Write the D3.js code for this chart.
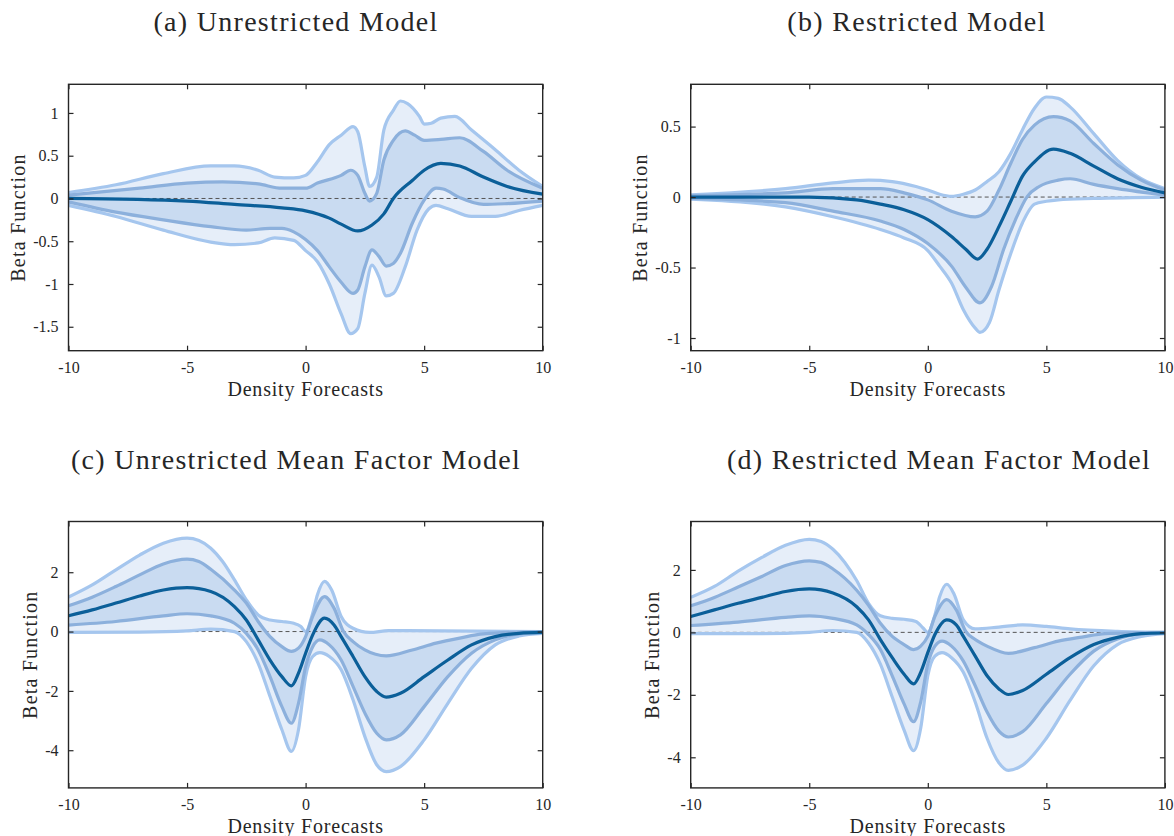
<!DOCTYPE html>
<html>
<head>
<meta charset="utf-8">
<script src="https://cdn.jsdelivr.net/npm/d3@7"></script>
<style>
  body { margin: 0; background: #fff; }
  svg { display: block; }
  text { font-family: "Liberation Serif", "DejaVu Serif", serif; fill: #262626; }
</style>
</head>
<body>
<svg id="chart" width="1174" height="836"></svg>
<script>
// x grid shared by all panels
var xTicks = [-10, -5, 0, 5, 10];

// (a) Unrestricted Model
var aMean = [[-10,0],[-5,-0.03],[-3,-0.07],[-1,-0.11],[0,-0.145],[1,-0.23],[1.5,-0.3],[2.2,-0.38],[2.8,-0.31],[3.3,-0.18],[3.7,0],[4.5,0.21],[5,0.33],[5.7,0.41],[6.5,0.38],[7.5,0.25],[8.5,0.14],[10,0.05]];
var aInnerUp = [[-10,0.04],[-7,0.12],[-5,0.18],[-3.5,0.195],[-2,0.17],[-1,0.12],[0,0.12],[0.5,0.18],[1.5,0.27],[1.9,0.33],[2.2,0.27],[2.5,0.06],[2.7,-0.03],[3,0.06],[3.3,0.45],[3.7,0.68],[4.2,0.79],[4.6,0.74],[5,0.68],[5.7,0.69],[6.5,0.71],[7.5,0.55],[8.5,0.33],[10,0.12]];
var aOuterUp = [[-10,0.07],[-8,0.16],[-6,0.29],[-4,0.38],[-3,0.38],[-2,0.33],[-1.3,0.25],[-0.5,0.24],[0,0.27],[0.5,0.43],[1,0.63],[1.5,0.74],[2,0.84],[2.2,0.78],[2.5,0.37],[2.7,0.14],[3,0.25],[3.3,0.8],[3.7,1.03],[4,1.14],[4.3,1.11],[4.8,0.96],[5,0.87],[5.3,0.88],[5.7,0.94],[6.3,0.96],[7,0.8],[8,0.57],[9,0.33],[10,0.14]];
var aInnerLo = [[-10,-0.04],[-8,-0.16],[-6,-0.25],[-4,-0.33],[-2.5,-0.37],[-1.5,-0.35],[-1,-0.35],[-0.5,-0.39],[0,-0.48],[0.5,-0.61],[1,-0.8],[1.5,-0.98],[2,-1.11],[2.2,-1.07],[2.5,-0.8],[2.8,-0.6],[3.1,-0.68],[3.4,-0.79],[3.7,-0.76],[4,-0.64],[4.5,-0.29],[5,-0.02],[5.5,0.12],[5.8,0.11],[6.5,0.01],[7.5,-0.07],[8.5,-0.06],[10,-0.03]];
var aOuterLo = [[-10,-0.08],[-8,-0.21],[-6,-0.37],[-4,-0.51],[-3,-0.54],[-2,-0.52],[-1.3,-0.46],[-0.5,-0.49],[0,-0.61],[0.5,-0.74],[1,-1.0],[1.5,-1.35],[1.9,-1.58],[2.2,-1.52],[2.5,-1.11],[2.8,-0.78],[3.1,-0.92],[3.4,-1.14],[3.7,-1.11],[4.2,-0.8],[4.7,-0.37],[5.2,-0.12],[5.5,-0.08],[6,-0.12],[7,-0.21],[8,-0.21],[9,-0.14],[10,-0.08]];
var aYTicks = [-1.5, -1, -0.5, 0, 0.5, 1];

// (b) Restricted Model
var bMean = [[-10,0],[-5,0],[-3,-0.02],[-2,-0.05],[-1,-0.09],[0,-0.16],[1,-0.28],[1.6,-0.37],[2.1,-0.44],[2.5,-0.37],[3,-0.21],[3.5,-0.03],[4,0.15],[4.5,0.25],[5.3,0.34],[6,0.31],[7,0.22],[8,0.13],[9,0.07],[10,0.03]];
var bInnerUp = [[-10,0.01],[-6,0.03],[-4,0.06],[-2,0.06],[-1,0.03],[0,-0.02],[1,-0.1],[2,-0.14],[2.5,-0.1],[3,0.05],[3.5,0.24],[4,0.41],[4.5,0.51],[5.3,0.57],[6,0.54],[7,0.38],[8,0.23],[9,0.12],[10,0.05]];
var bOuterUp = [[-10,0.015],[-6,0.06],[-4,0.1],[-2.5,0.12],[-1.5,0.11],[-0.5,0.075],[0,0.05],[0.5,0.02],[1,0.005],[1.5,0.02],[2,0.05],[2.5,0.11],[3,0.18],[3.5,0.31],[4,0.48],[4.5,0.63],[5,0.71],[5.5,0.7],[6,0.64],[7,0.45],[8,0.26],[9,0.13],[10,0.06]];
var bInnerLo = [[-10,-0.01],[-6,-0.04],[-4,-0.1],[-2,-0.17],[-1,-0.23],[0,-0.33],[1,-0.49],[1.6,-0.64],[2.2,-0.75],[2.7,-0.63],[3.2,-0.37],[3.7,-0.16],[4.2,0.005],[4.7,0.075],[5.5,0.12],[6,0.13],[7,0.09],[8,0.06],[10,0.015]];
var bOuterLo = [[-10,-0.015],[-6,-0.07],[-4,-0.14],[-2,-0.23],[-1,-0.29],[0,-0.38],[0.5,-0.49],[1,-0.61],[1.5,-0.8],[2,-0.93],[2.2,-0.96],[2.6,-0.89],[3,-0.66],[3.5,-0.4],[4,-0.18],[4.5,-0.05],[5,-0.03],[5.5,-0.02],[7,-0.01],[10,0]];
var bYTicks = [-1, -0.5, 0, 0.5];

// (c) Unrestricted Mean Factor Model
var cMean = [[-10,0.53],[-9,0.73],[-8,0.96],[-7,1.2],[-6,1.4],[-5,1.48],[-4,1.35],[-3,0.84],[-2.5,0.39],[-2,-0.28],[-1.5,-0.96],[-1,-1.52],[-0.6,-1.83],[-0.3,-1.4],[0,-0.73],[0.3,-0.11],[0.8,0.45],[1.2,0.22],[1.5,-0.17],[2,-0.84],[2.5,-1.52],[3,-2.02],[3.4,-2.21],[4,-2.08],[5,-1.52],[6,-0.96],[7,-0.45],[8,-0.17],[9,-0.06],[10,-0.03]];
var cInnerUp = [[-10,0.87],[-9,1.16],[-8,1.52],[-7,1.91],[-6,2.28],[-5,2.44],[-4.5,2.36],[-4,2.1],[-3,1.4],[-2.5,0.96],[-2,0.34],[-1.5,-0.17],[-1,-0.51],[-0.6,-0.67],[-0.3,-0.56],[0,-0.17],[0.3,0.51],[0.8,1.18],[1.2,0.79],[1.6,0],[2,-0.34],[2.5,-0.62],[3.4,-0.82],[4.5,-0.62],[5.5,-0.39],[6.5,-0.22],[7.5,-0.08],[10,0]];
var cOuterUp = [[-10,1.16],[-9,1.57],[-8,2.08],[-7,2.58],[-6,2.98],[-5,3.15],[-4.5,3.07],[-4,2.81],[-3.5,2.36],[-3,1.74],[-2.5,1.07],[-2,0.56],[-1.5,0.39],[-1,0.34],[-0.5,0.28],[-0.2,0.17],[0,0],[0.3,0.62],[0.5,1.24],[0.8,1.69],[1.1,1.4],[1.5,0.51],[2,0.11],[2.7,-0.03],[3.5,0.03],[10,0]];
var cInnerLo = [[-10,0.22],[-8,0.34],[-6,0.53],[-5,0.6],[-4,0.53],[-3,0.28],[-2.5,-0.06],[-2,-0.62],[-1.5,-1.52],[-1,-2.53],[-0.6,-3.09],[-0.3,-2.42],[0,-1.18],[0.3,-0.51],[0.6,-0.28],[1,-0.45],[1.5,-0.96],[2,-1.85],[2.5,-2.75],[3,-3.43],[3.4,-3.65],[4,-3.48],[5,-2.53],[6,-1.52],[7,-0.73],[8,-0.28],[9,-0.08],[10,-0.03]];
var cOuterLo = [[-10,-0.03],[-7,-0.02],[-5,0.02],[-4,0.08],[-3,0],[-2.5,-0.34],[-2,-1.07],[-1.5,-2.19],[-1,-3.31],[-0.6,-4.04],[-0.3,-3.31],[0,-1.52],[0.3,-0.84],[0.6,-0.71],[1,-0.84],[1.5,-1.29],[2,-2.3],[2.5,-3.54],[3,-4.49],[3.4,-4.72],[4,-4.55],[5,-3.65],[6,-2.42],[7,-1.24],[8,-0.45],[9,-0.15],[10,-0.06]];
var cYTicks = [-4, -2, 0, 2];

// (d) Restricted Mean Factor Model
var dMean = [[-10,0.51],[-9,0.72],[-8,0.93],[-7,1.12],[-6,1.31],[-5,1.39],[-4,1.26],[-3,0.82],[-2.5,0.4],[-2,-0.23],[-1.5,-0.81],[-1,-1.34],[-0.6,-1.65],[-0.3,-1.28],[0,-0.65],[0.3,-0.07],[0.8,0.4],[1.2,0.24],[1.5,-0.13],[2,-0.76],[2.5,-1.39],[3,-1.81],[3.4,-1.99],[4,-1.86],[5,-1.34],[6,-0.81],[7,-0.39],[8,-0.16],[9,-0.04],[10,-0.02]];
var dInnerUp = [[-10,0.85],[-9,1.12],[-8,1.45],[-7,1.79],[-6,2.14],[-5,2.29],[-4.5,2.24],[-4,2.03],[-3,1.35],[-2.5,0.87],[-2,0.29],[-1.5,-0.13],[-1,-0.39],[-0.6,-0.55],[-0.3,-0.44],[0,-0.13],[0.3,0.51],[0.8,1.05],[1.2,0.72],[1.6,0.03],[2,-0.23],[2.5,-0.44],[3.4,-0.67],[4.5,-0.49],[5.5,-0.28],[6.5,-0.15],[7.5,-0.04],[10,0]];
var dOuterUp = [[-10,1.12],[-9,1.47],[-8,1.96],[-7,2.4],[-6,2.79],[-5,2.98],[-4.5,2.91],[-4,2.66],[-3.5,2.24],[-3,1.66],[-2.5,0.93],[-2,0.53],[-1.5,0.45],[-1,0.42],[-0.5,0.35],[-0.2,0.14],[0,0],[0.3,0.56],[0.5,1.14],[0.8,1.54],[1.1,1.24],[1.5,0.4],[2,0.11],[3,0.17],[4,0.24],[5,0.19],[6,0.11],[8,0.03],[10,0]];
var dInnerLo = [[-10,0.22],[-8,0.33],[-6,0.48],[-5,0.53],[-4,0.45],[-3,0.24],[-2.5,-0.07],[-2,-0.55],[-1.5,-1.39],[-1,-2.29],[-0.6,-2.86],[-0.3,-2.23],[0,-1.02],[0.3,-0.44],[0.6,-0.28],[1,-0.44],[1.5,-0.92],[2,-1.71],[2.5,-2.55],[3,-3.16],[3.4,-3.35],[4,-3.18],[5,-2.28],[6,-1.34],[7,-0.6],[8,-0.21],[9,-0.05],[10,-0.02]];
var dOuterLo = [[-10,-0.04],[-7,-0.04],[-5,0],[-4,0.06],[-3,0],[-2.5,-0.34],[-2,-1.02],[-1.5,-2.07],[-1,-3.13],[-0.6,-3.79],[-0.3,-3.07],[0,-1.39],[0.3,-0.76],[0.6,-0.65],[1,-0.81],[1.5,-1.28],[2,-2.23],[2.5,-3.39],[3,-4.18],[3.4,-4.42],[4,-4.25],[5,-3.39],[6,-2.18],[7,-1.07],[8,-0.39],[9,-0.13],[10,-0.04]];
var dYTicks = [-4, -2, 0, 2];

var titles = ["(a) Unrestricted Model", "(b) Restricted Model",
  "(c) Unrestricted Mean Factor Model", "(d) Restricted Mean Factor Model"];
var xLabel = "Density Forecasts";
var yLabel = "Beta Function";

var colors = {
  outerFill: "#e6eef9",
  innerFill: "#c9dbf1",
  outerLine: "#a5c6ee",
  innerLine: "#8cb0dc",
  mean: "#0b5f99",
  axis: "#262626",
  zero: "#555555"
};

var svg = d3.select("#chart");
svg.append("rect").attr("width", 1174).attr("height", 836).attr("fill", "#fff");

var panels = [
  { title: titles[0], left: 68.5, top: 84.3, yDomain: [-1.78, 1.335], yTicks: aYTicks, yLabelX: 18, titleX: 296, titleY: 31,
    mean: aMean, innerUp: aInnerUp, innerLo: aInnerLo, outerUp: aOuterUp, outerLo: aOuterLo },
  { title: titles[1], left: 690.7, top: 84.3, yDomain: [-1.09, 0.80], yTicks: bYTicks, yLabelX: 640, titleX: 917, titleY: 31,
    mean: bMean, innerUp: bInnerUp, innerLo: bInnerLo, outerUp: bOuterUp, outerLo: bOuterLo },
  { title: titles[2], left: 68.5, top: 521.5, yDomain: [-5.27, 3.71], yTicks: cYTicks, yLabelX: 30, titleX: 296, titleY: 469,
    mean: cMean, innerUp: cInnerUp, innerLo: cInnerLo, outerUp: cOuterUp, outerLo: cOuterLo },
  { title: titles[3], left: 690.7, top: 521.5, yDomain: [-4.98, 3.55], yTicks: dYTicks, yLabelX: 652, titleX: 939, titleY: 469,
    mean: dMean, innerUp: dInnerUp, innerLo: dInnerLo, outerUp: dOuterUp, outerLo: dOuterLo }
];

var W = 474.2, H = 266.4;

function fmt(d) { return String(d); }

function bandPath(line, upper, lower) {
  var up = line(upper);
  var lo = line(lower.slice().reverse());
  return up + "L" + lo.slice(1) + "Z";
}

function drawPanel(p, i) {
  var x = d3.scaleLinear().domain([-10, 10]).range([0, W]);
  var y = d3.scaleLinear().domain(p.yDomain).range([H, 0]);

  var line = d3.line()
    .x(function(d) { return x(d[0]); })
    .y(function(d) { return y(d[1]); })
    .curve(d3.curveMonotoneX);

  var g = svg.append("g").attr("transform", "translate(" + p.left + "," + p.top + ")");

  svg.append("text")
    .attr("x", p.titleX).attr("y", p.titleY)
    .attr("text-anchor", "middle")
    .attr("font-size", 28)
    .attr("letter-spacing", 1.3)
    .text(p.title);

  var clipId = "clip" + i;
  g.append("clipPath").attr("id", clipId)
    .append("rect").attr("width", W).attr("height", H);

  var plot = g.append("g").attr("clip-path", "url(#" + clipId + ")");

  plot.append("path")
    .attr("d", bandPath(line, p.outerUp, p.outerLo))
    .attr("fill", colors.outerFill);

  plot.append("path")
    .attr("d", bandPath(line, p.innerUp, p.innerLo))
    .attr("fill", colors.innerFill);

  plot.append("line")
    .attr("x1", 0).attr("x2", W)
    .attr("y1", y(0)).attr("y2", y(0))
    .attr("stroke", colors.zero)
    .attr("stroke-width", 1)
    .attr("stroke-dasharray", "4,3");

  [p.outerUp, p.outerLo].forEach(function(s) {
    plot.append("path").attr("d", line(s))
      .attr("fill", "none").attr("stroke", colors.outerLine).attr("stroke-width", 3.2);
  });
  [p.innerUp, p.innerLo].forEach(function(s) {
    plot.append("path").attr("d", line(s))
      .attr("fill", "none").attr("stroke", colors.innerLine).attr("stroke-width", 3.2);
  });
  plot.append("path").attr("d", line(p.mean))
    .attr("fill", "none").attr("stroke", colors.mean).attr("stroke-width", 3.2);

  // axes with inward ticks on all four sides
  var axB = g.append("g").attr("transform", "translate(0," + H + ")")
    .call(d3.axisBottom(x).tickValues(xTicks).tickFormat(fmt).tickSizeInner(-5).tickSizeOuter(0).tickPadding(11));
  var axL = g.append("g")
    .call(d3.axisLeft(y).tickValues(p.yTicks).tickFormat(fmt).tickSizeInner(-5).tickSizeOuter(0).tickPadding(10));
  var axT = g.append("g")
    .call(d3.axisTop(x).tickValues(xTicks).tickFormat("").tickSizeInner(-5).tickSizeOuter(0));
  var axR = g.append("g").attr("transform", "translate(" + W + ",0)")
    .call(d3.axisRight(y).tickValues(p.yTicks).tickFormat("").tickSizeInner(-5).tickSizeOuter(0));

  [axB, axL, axT, axR].forEach(function(a) {
    a.select(".domain").remove();
    a.selectAll(".tick line").attr("stroke", colors.axis).attr("stroke-width", 1.2);
    a.selectAll(".tick text").attr("font-size", 16)
      .attr("font-family", "'Liberation Serif', 'DejaVu Serif', serif").attr("fill", colors.axis);
  });

  g.append("rect")
    .attr("width", W).attr("height", H)
    .attr("fill", "none")
    .attr("stroke", colors.axis)
    .attr("stroke-width", 1.4);

  g.append("text")
    .attr("x", W / 2).attr("y", H + 45)
    .attr("text-anchor", "middle")
    .attr("font-size", 20)
    .attr("letter-spacing", 0.8)
    .text(xLabel);

  svg.append("text")
    .attr("transform", "translate(" + p.yLabelX + "," + (p.top + H / 2) + ") rotate(-90)")
    .attr("text-anchor", "middle")
    .attr("dy", "0.35em")
    .attr("font-size", 20)
    .attr("letter-spacing", 1.2)
    .text(yLabel);
}

panels.forEach(drawPanel);
</script>
</body>
</html>
